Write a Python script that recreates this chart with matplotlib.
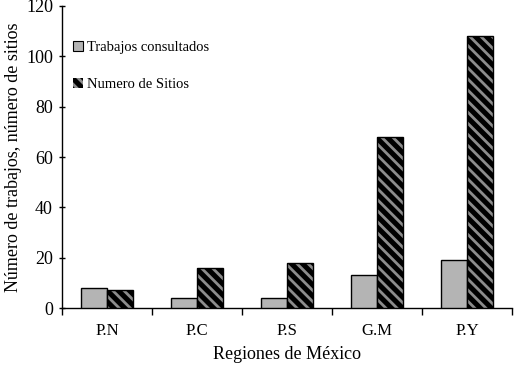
import matplotlib
matplotlib.use("Agg")
import matplotlib.pyplot as plt
import numpy as np
from matplotlib.patches import Patch

categories = ["P.N", "P.C", "P.S", "G.M", "P.Y"]
trabajos = [8, 4, 4, 13, 19]
sitios = [7, 16, 18, 68, 108]

plt.rcParams['font.family'] = ['Liberation Serif', 'DejaVu Serif']
plt.rcParams['hatch.linewidth'] = 2.0

fig = plt.figure(figsize=(5.14, 3.65), dpi=100)
ax = fig.add_axes([0.1206, 0.156, 0.8754, 0.8276])

x = np.arange(len(categories))
w = 0.29
ax.bar(x - w/2, trabajos, w, color="#b4b4b4", edgecolor="black", linewidth=1.0, zorder=3)
# hatched bars: black face, gray hatch
ax.bar(x + w/2, sitios, w, color="black", edgecolor="#8c8c8c", hatch="\\\\\\", linewidth=0, zorder=3)
ax.bar(x + w/2, sitios, w, color="none", edgecolor="black", linewidth=1.0, zorder=4)

ax.set_xlim(-0.5, len(categories) - 0.5)
ax.set_ylim(0, 120)
ax.set_yticks(range(0, 121, 20))
ax.set_xticks(x)
ax.set_xticklabels(categories)
ax.set_xticks(np.arange(-0.5, len(categories)), minor=True)
ax.tick_params(axis='x', which='major', length=0, labelsize=12, pad=11)
ax.tick_params(axis='x', which='minor', length=5, direction='out', width=1)
ax.tick_params(axis='y', length=5, direction='inout', labelsize=13, width=1, pad=4)
for s in ['top', 'right']:
    ax.spines[s].set_visible(False)
ax.spines['left'].set_linewidth(1)
ax.spines['bottom'].set_linewidth(1)

ax.set_xlabel("Regiones de México", fontsize=13, labelpad=5)
ax.set_ylabel("Número de trabajos, número de sitios", fontsize=13, labelpad=3)

handles = [Patch(facecolor="#b4b4b4", edgecolor="black", linewidth=0.8),
           Patch(facecolor="black", edgecolor="#8c8c8c", hatch="\\\\\\", linewidth=0)]
leg = ax.legend(handles, ["Trabajos consultados", "Numero de Sitios"], loc="upper left",
                bbox_to_anchor=(-0.005, 0.928), frameon=False, fontsize=10.5,
                handlelength=0.7, handleheight=0.7, handletextpad=0.3, labelspacing=1.65)

fig.savefig("out.png", dpi=100)
